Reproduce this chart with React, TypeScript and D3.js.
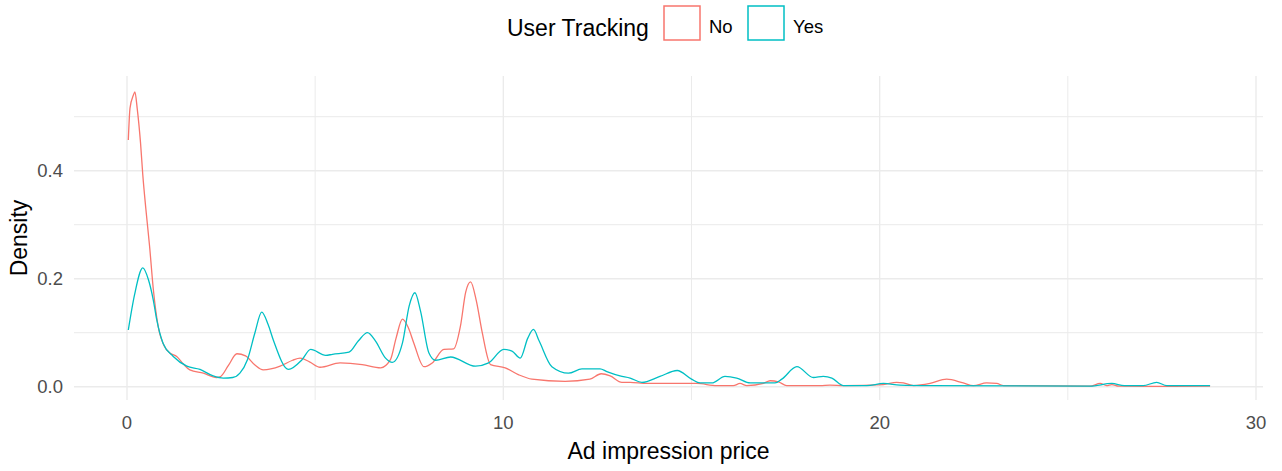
import React from "react";
import * as d3 from "d3";

// (Ad impression price vs density)
const noPrice = [
  0.035, 0.08, 0.17, 0.21, 0.27, 0.36, 0.42, 0.5, 0.6, 0.7, 0.83, 1.0, 1.15, 1.32, 1.5, 1.67, 2.03,
  2.38, 2.47, 2.7, 2.92, 3.15, 3.4, 3.62, 4.07, 4.4, 4.6, 4.85, 5.13, 5.66, 6.25, 6.74, 7.0, 7.15,
  7.32, 7.47, 7.62, 7.89, 8.11, 8.42, 8.68, 8.86, 9.0, 9.13, 9.28, 9.44, 9.66, 10.05, 10.41, 10.76,
  11.64, 12.3, 12.6, 12.84, 13.15, 13.37, 13.81, 15.14, 15.67, 16.11, 16.29, 16.47, 16.91, 17.09,
  17.31, 17.53, 18.42, 18.68, 19.04, 20.1, 20.45, 20.63, 20.9, 21.34, 21.78, 22.22, 22.49, 22.84,
  23.11, 23.29, 25.59, 25.86, 26.03, 26.17, 26.35, 27.3, 28.78,
];
const noDensity = [
  0.457, 0.516, 0.54, 0.546, 0.516, 0.451, 0.392, 0.33, 0.26, 0.18, 0.111, 0.074, 0.062, 0.056,
  0.042, 0.031, 0.025, 0.017, 0.018, 0.04, 0.061, 0.057, 0.04, 0.031, 0.038, 0.049, 0.053, 0.046,
  0.036, 0.044, 0.041, 0.035, 0.05, 0.09, 0.125, 0.11, 0.081, 0.037, 0.044, 0.069, 0.07, 0.112,
  0.175, 0.194, 0.16, 0.1, 0.041, 0.035, 0.022, 0.014, 0.01, 0.014, 0.024, 0.02, 0.008, 0.008,
  0.006, 0.006, 0.002, 0.002, 0.006, 0.002, 0.006, 0.011, 0.009, 0.002, 0.002, 0.003, 0.002,
  0.004, 0.008, 0.007, 0.002, 0.006, 0.014, 0.007, 0.002, 0.007, 0.006, 0.002, 0.001, 0.006,
  0.002, 0.004, 0.001, 0.0005, 0.001,
];

const yesPrice = [
  0.035, 0.2, 0.42, 0.57, 0.7, 0.79, 0.96, 1.23, 1.59, 1.94, 2.29, 2.56, 2.81, 3.0, 3.2, 3.4,
  3.58, 3.75, 3.89, 4.29, 4.65, 4.88, 5.28, 5.46, 5.9, 6.15, 6.39, 6.6, 6.87, 7.05, 7.32, 7.5, 7.65,
  7.8, 8.02, 8.2, 8.6, 9.26, 9.61, 10.01, 10.23, 10.45, 10.65, 10.8, 10.95, 11.29, 11.73, 12.09,
  12.57, 12.75, 13.1, 13.37, 13.68, 14.16, 14.62, 15.0, 15.23, 15.54, 15.89, 16.2, 16.56, 17.22,
  17.4, 17.8, 18.24, 18.5, 18.73, 19.04, 19.66, 20.1, 20.54, 21.34, 25.59, 26.17, 26.5, 27.0,
  27.36, 27.63, 28.78,
];
const yesDensity = [
  0.105, 0.17, 0.22, 0.198, 0.16, 0.124, 0.08, 0.056, 0.038, 0.032, 0.02, 0.016, 0.017, 0.025,
  0.05, 0.1, 0.138, 0.115, 0.086, 0.032, 0.05, 0.069, 0.058, 0.06, 0.064, 0.085, 0.1, 0.085,
  0.053, 0.045, 0.081, 0.15, 0.174, 0.14, 0.063, 0.049, 0.055, 0.038, 0.044, 0.069, 0.066, 0.053,
  0.09, 0.106, 0.085, 0.037, 0.025, 0.033, 0.033, 0.028, 0.02, 0.016, 0.008, 0.019, 0.03, 0.014,
  0.007, 0.007, 0.019, 0.016, 0.007, 0.007, 0.014, 0.037, 0.017, 0.019, 0.016, 0.002, 0.002,
  0.006, 0.003, 0.002, 0.001, 0.006, 0.002, 0.002, 0.008, 0.002, 0.002,
];

const groups = ["No", "Yes"];
const colors = ["#F8766D", "#00BFC4"];
const xTicks = [0, 10, 20, 30];
const xMinor = [5, 15, 25];
const yTicks = [0, 0.2, 0.4];
const yMinor = [0.1, 0.3, 0.5];

const W = 1282;
const H = 471;
const panel = { left: 74, right: 1263, top: 76, bottom: 400 };
const font = "'Liberation Sans', Arial, sans-serif";

const App = () => {
  const x = d3.scaleLinear([0, 30], [127, 1256]);
  const y = d3.scaleLinear([0, 0.5], [386.7, 116.7]);

  const line = d3
    .line<[number, number]>()
    .x((d) => x(d[0]))
    .y((d) => y(d[1]))
    .curve(d3.curveMonotoneX);

  const series = [
    noPrice.map((p, i) => [p, noDensity[i]] as [number, number]),
    yesPrice.map((p, i) => [p, yesDensity[i]] as [number, number]),
  ];

  return (
    <svg
      width={W}
      height={H}
      style={{ position: "absolute", left: 0, top: 0, background: "#fff" }}
      fontFamily={font}
    >
      {/* grid */}
      {yMinor.map((t) => (
        <line key={"ym" + t} x1={panel.left} x2={panel.right} y1={y(t)} y2={y(t)} stroke="#EBEBEB" strokeWidth={1} />
      ))}
      {xMinor.map((t) => (
        <line key={"xm" + t} x1={x(t)} x2={x(t)} y1={panel.top} y2={panel.bottom} stroke="#EBEBEB" strokeWidth={1} />
      ))}
      {yTicks.map((t) => (
        <line key={"y" + t} x1={panel.left} x2={panel.right} y1={y(t)} y2={y(t)} stroke="#EBEBEB" strokeWidth={1.4} />
      ))}
      {xTicks.map((t) => (
        <line key={"x" + t} x1={x(t)} x2={x(t)} y1={panel.top} y2={panel.bottom} stroke="#EBEBEB" strokeWidth={1.4} />
      ))}

      {/* density lines */}
      {series.map((s, i) => (
        <path key={groups[i]} d={line(s) ?? ""} fill="none" stroke={colors[i]} strokeWidth={1.3} />
      ))}

      {/* axes text */}
      {yTicks.map((t) => (
        <text key={"yl" + t} x={63} y={y(t)} dy="0.36em" textAnchor="end" fontSize={18.5} fill="#4D4D4D">
          {d3.format(".1f")(t)}
        </text>
      ))}
      {xTicks.map((t) => (
        <text key={"xl" + t} x={x(t)} y={429} textAnchor="middle" fontSize={18.5} fill="#4D4D4D">
          {t}
        </text>
      ))}
      <text x={(panel.left + panel.right) / 2} y={459} textAnchor="middle" fontSize={23} fill="#000">
        Ad impression price
      </text>
      <text
        transform={`translate(27,${(panel.top + panel.bottom) / 2}) rotate(-90)`}
        textAnchor="middle"
        fontSize={23}
        fill="#000"
      >
        Density
      </text>

      {/* legend */}
      <text x={507} y={36} fontSize={23} fill="#000">
        User Tracking
      </text>
      {groups.map((g, i) => {
        const bx = [664, 748][i];
        return (
          <g key={"lg" + g}>
            <rect x={bx} y={6} width={36} height={34} fill="#fff" stroke={colors[i]} strokeWidth={1.5} />
            <text x={bx + 45} y={33} fontSize={18.5} fill="#000">
              {g}
            </text>
          </g>
        );
      })}
    </svg>
  );
};

export default App;
